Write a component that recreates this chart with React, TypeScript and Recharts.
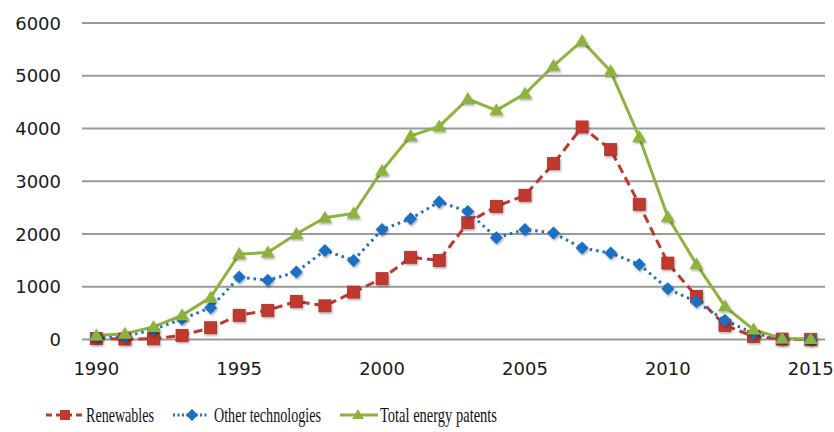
import React from 'react';
import { LineChart, Line, XAxis, YAxis, CartesianGrid, Legend } from 'recharts';

const years = ['1990','1991','1992','1993','1994','1995','1996','1997','1998','1999','2000','2001','2002','2003','2004','2005','2006','2007','2008','2009','2010','2011','2012','2013','2014','2015'];
const renewables = [20,10,15,80,225,460,555,725,640,900,1155,1560,1500,2215,2525,2735,3335,4030,3600,2565,1450,820,270,60,10,5];
const otherTech = [50,60,190,390,605,1185,1125,1280,1690,1500,2085,2290,2610,2430,1930,2085,2020,1735,1640,1425,965,715,365,120,10,5];
const totalEnergy = [80,110,240,460,800,1620,1650,2000,2310,2390,3200,3860,4040,4560,4345,4660,5190,5660,5085,3840,2325,1430,630,190,20,10];
const yTicks = [0,1000,2000,3000,4000,5000,6000];
const xTicks = ['1990','1995','2000','2005','2010','2015'];

const data = years.map((y, i) => ({ year: y, renewables: renewables[i], other: otherTech[i], total: totalEnergy[i] }));

const RED = '#C0392F';
const BLUE = '#1E6FC4';
const GREEN = '#8DB33C';

const Square = (p: any) => {
  const { cx, cy, index } = p;
  if (cx == null || cy == null) return <g key={index} />;
  return <rect key={index} x={cx - 6} y={cy - 6} width={12} height={12} fill={RED} stroke="#A8302A" strokeWidth={0.8} filter="url(#shadow)" />;
};
const Diamond = (p: any) => {
  const { cx, cy, index } = p;
  if (cx == null || cy == null) return <g key={index} />;
  const r = 6.5;
  return <polygon key={index} points={`${cx},${cy - r} ${cx + r},${cy} ${cx},${cy + r} ${cx - r},${cy}`} fill={BLUE} filter="url(#shadow)" />;
};
const Triangle = (p: any) => {
  const { cx, cy, index } = p;
  if (cx == null || cy == null) return <g key={index} />;
  return <polygon key={index} points={`${cx},${cy - 7} ${cx + 7},${cy + 5} ${cx - 7},${cy + 5}`} fill={GREEN} filter="url(#shadow)" />;
};

const XTick = (p: any) => {
  const { x, y, payload } = p;
  return <text x={x} y={y} dy={35.5} textAnchor="middle" fontFamily="DejaVu Sans" fontSize={18} fill="#1a1a1a">{payload.value}</text>;
};
const YTick = (p: any) => {
  const { x, y, payload } = p;
  return <text x={x - 21} y={y} dy={6.6} textAnchor="end" fontFamily="DejaVu Sans" fontSize={18} fill="#1a1a1a">{payload.value}</text>;
};

const legendItems = [
  { label: 'Renewables', color: RED, dash: '6 4', lx1: 46, lx2: 84, mx: 65, tx: 86, tw: 68, marker: 'square' },
  { label: 'Other technologies', color: BLUE, dash: '2 2.5', lx1: 173, lx2: 208, mx: 192, tx: 214, tw: 107, marker: 'diamond' },
  { label: 'Total energy patents', color: GREEN, dash: undefined, lx1: 340, lx2: 378, mx: 358, tx: 380, tw: 117, marker: 'triangle' },
];

const LegendContent = () => (
  <svg width={834} height={34} style={{ display: 'block' }}>
    {legendItems.map((it) => {
      const cy = 17;
      let m: any;
      if (it.marker === 'square') m = <rect x={it.mx - 5} y={cy - 5} width={10} height={10} fill={it.color} />;
      else if (it.marker === 'diamond') m = <polygon points={`${it.mx},${cy - 6} ${it.mx + 6},${cy} ${it.mx},${cy + 6} ${it.mx - 6},${cy}`} fill={it.color} />;
      else m = <polygon points={`${it.mx},${cy - 6} ${it.mx + 6},${cy + 4} ${it.mx - 6},${cy + 4}`} fill={it.color} />;
      return (
        <g key={it.label}>
          <line x1={it.lx1} x2={it.lx2} y1={cy} y2={cy} stroke={it.color} strokeWidth={3} strokeDasharray={it.dash} />
          {m}
          <text x={it.tx} y={cy} dy={7.2} fontFamily="Liberation Serif" fontSize={22} fill="#111" textLength={it.tw} lengthAdjust="spacingAndGlyphs">{it.label}</text>
        </g>
      );
    })}
  </svg>
);

export default function App() {
  return (
    <div style={{ position: 'absolute', left: 0, top: 0, width: 834, height: 432, background: '#fff' }}>
      <LineChart width={834} height={432} data={data} margin={{ top: 23, right: 9, left: 0, bottom: 0 }}>
        <defs>
          <filter id="shadow" x="-50%" y="-50%" width="200%" height="200%">
            <feDropShadow dx="1" dy="1.5" stdDeviation="1.2" floodColor="#000" floodOpacity="0.35" />
          </filter>
        </defs>
        <CartesianGrid vertical={false} stroke="#9A9A9A" strokeWidth={2} />
        <XAxis dataKey="year" ticks={xTicks} interval={0} axisLine={false} tickLine={false} tickSize={0} tickMargin={0} height={58.4} padding={{ left: 14.3, right: 14.3 }} tick={<XTick />} />
        <YAxis domain={[0, 6000]} ticks={yTicks} width={82} axisLine={false} tickLine={false} tickSize={0} tickMargin={0} tick={<YTick />} />
        <Legend verticalAlign="bottom" content={<LegendContent />} />
        <Line dataKey="renewables" stroke={RED} strokeWidth={3} strokeDasharray="9 5" dot={Square} isAnimationActive={false} />
        <Line dataKey="other" stroke={BLUE} strokeWidth={3} strokeDasharray="2.5 4" dot={Diamond} isAnimationActive={false} />
        <Line dataKey="total" stroke={GREEN} strokeWidth={3} dot={Triangle} isAnimationActive={false} />
      </LineChart>
    </div>
  );
}
